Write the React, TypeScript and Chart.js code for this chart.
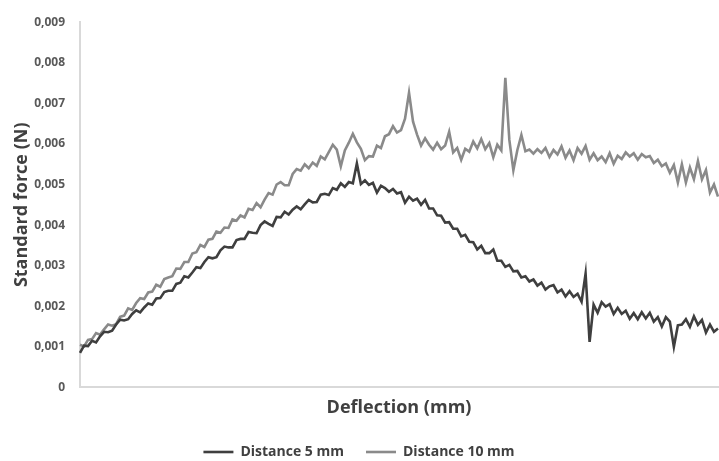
import React, { useEffect, useRef } from "react";
import { Chart, registerables } from "chart.js";

Chart.register(...registerables);

const yTickLabels = ["0", "0,001", "0,002", "0,003", "0,004", "0,005", "0,006", "0,007", "0,008", "0,009"];

// Standard force (N) — Distance 5 mm
const distance5 = [
  0.00085, 0.00103, 0.00102, 0.00115, 0.00111, 0.00126, 0.00137, 0.00136, 0.00140, 0.00155,
  0.00167, 0.00165, 0.00168, 0.00181, 0.00190, 0.00185, 0.00197, 0.00207, 0.00204, 0.00219,
  0.00220, 0.00235, 0.00238, 0.00238, 0.00255, 0.00258, 0.00274, 0.00271, 0.00283, 0.00296,
  0.00294, 0.00309, 0.00321, 0.00318, 0.00321, 0.00338, 0.00347, 0.00345, 0.00345, 0.00363,
  0.00366, 0.00366, 0.00383, 0.00381, 0.00380, 0.00400, 0.00409, 0.00403, 0.00398, 0.00420,
  0.00419, 0.00433, 0.00426, 0.00438, 0.00446, 0.00439, 0.00451, 0.00462, 0.00456, 0.00457,
  0.00475, 0.00477, 0.00474, 0.00491, 0.00487, 0.00503, 0.00494, 0.00506, 0.00503, 0.00552,
  0.00501, 0.00510, 0.00499, 0.00504, 0.00480, 0.00497, 0.00491, 0.00482, 0.00489, 0.00478,
  0.00481, 0.00455, 0.00470, 0.00460, 0.00465, 0.00450, 0.00462, 0.00441, 0.00441, 0.00424,
  0.00423, 0.00406, 0.00407, 0.00391, 0.00391, 0.00372, 0.00376, 0.00359, 0.00358, 0.00340,
  0.00349, 0.00331, 0.00331, 0.00340, 0.00312, 0.00312, 0.00297, 0.00302, 0.00286, 0.00287,
  0.00271, 0.00274, 0.00261, 0.00266, 0.00251, 0.00258, 0.00241, 0.00249, 0.00252, 0.00234,
  0.00241, 0.00224, 0.00237, 0.00223, 0.00231, 0.00211, 0.00280, 0.00112, 0.00204, 0.00184,
  0.00210, 0.00199, 0.00205, 0.00181, 0.00196, 0.00181, 0.00189, 0.00169, 0.00183, 0.00168,
  0.00185, 0.00170, 0.00184, 0.00162, 0.00173, 0.00150, 0.00173, 0.00162, 0.00100, 0.00153,
  0.00155, 0.00168, 0.00149, 0.00175, 0.00154, 0.00166, 0.00135, 0.00155, 0.00137, 0.00145
];

// Standard force (N) — Distance 10 mm
const distance10 = [
  0.00105, 0.00101, 0.00117, 0.00119, 0.00134, 0.00130, 0.00143, 0.00155, 0.00152, 0.00156,
  0.00174, 0.00177, 0.00195, 0.00191, 0.00208, 0.00220, 0.00218, 0.00234, 0.00236, 0.00253,
  0.00248, 0.00267, 0.00271, 0.00274, 0.00293, 0.00292, 0.00309, 0.00309, 0.00330, 0.00333,
  0.00351, 0.00346, 0.00364, 0.00366, 0.00384, 0.00381, 0.00394, 0.00393, 0.00414, 0.00411,
  0.00424, 0.00419, 0.00440, 0.00437, 0.00454, 0.00444, 0.00463, 0.00479, 0.00475, 0.00500,
  0.00506, 0.00498, 0.00498, 0.00526, 0.00538, 0.00534, 0.00550, 0.00540, 0.00554, 0.00546,
  0.00569, 0.00562, 0.00580, 0.00598, 0.00586, 0.00545, 0.00584, 0.00603, 0.00625, 0.00604,
  0.00588, 0.00560, 0.00570, 0.00569, 0.00596, 0.00590, 0.00619, 0.00624, 0.00644, 0.00628,
  0.00634, 0.00662, 0.00726, 0.00655, 0.00623, 0.00596, 0.00614, 0.00598, 0.00586, 0.00603,
  0.00587, 0.00596, 0.00630, 0.00579, 0.00590, 0.00561, 0.00588, 0.00581, 0.00606, 0.00589,
  0.00612, 0.00587, 0.00602, 0.00567, 0.00598, 0.00584, 0.00763, 0.00610, 0.00535, 0.00585,
  0.00622, 0.00582, 0.00586, 0.00576, 0.00587, 0.00578, 0.00590, 0.00568, 0.00585, 0.00574,
  0.00594, 0.00566, 0.00584, 0.00560, 0.00590, 0.00576, 0.00595, 0.00561, 0.00577, 0.00560,
  0.00569, 0.00555, 0.00577, 0.00551, 0.00571, 0.00563, 0.00579, 0.00569, 0.00577, 0.00561,
  0.00575, 0.00567, 0.00570, 0.00553, 0.00561, 0.00545, 0.00552, 0.00529, 0.00548, 0.00505,
  0.00550, 0.00505, 0.00542, 0.00513, 0.00558, 0.00513, 0.00536, 0.00480, 0.00500, 0.00470
];

const deflectionSteps = distance5.map((_, i) => String(i));

const FONT = "'Open Sans', 'Liberation Sans', sans-serif";

export default function App() {
  const ref = useRef<HTMLCanvasElement | null>(null);

  useEffect(() => {
    document.body.style.margin = "0";
    document.body.style.overflow = "hidden";
    document.documentElement.style.overflow = "hidden";
    const canvas = ref.current;
    if (!canvas) return;
    const chart = new Chart(canvas, {
      type: "line",
      data: {
        labels: deflectionSteps,
        datasets: [
          {
            label: "Distance 5 mm",
            data: distance5,
            borderColor: "#3f3f3f",
            backgroundColor: "#3f3f3f",
            borderWidth: 2.6,
            pointRadius: 0,
            tension: 0,
          },
          {
            label: "Distance 10 mm",
            data: distance10,
            borderColor: "#8a8a8a",
            backgroundColor: "#8a8a8a",
            borderWidth: 2.6,
            pointRadius: 0,
            tension: 0,
          },
        ],
      },
      options: {
        animation: false,
        responsive: false,
        layout: { padding: { top: 19, right: 1, left: 0, bottom: 0 } },
        plugins: {
          tooltip: { enabled: false },
          legend: {
            position: "bottom",
            labels: {
              usePointStyle: true,
              pointStyle: "line",
              pointStyleWidth: 30,
              color: "#404040",
              font: { family: FONT, size: 14, weight: "bold" },
              padding: 22,
            },
          },
        },
        scales: {
          x: {
            type: "category",
            offset: false,
            grid: { display: false, drawTicks: false },
            border: { display: true, color: "#d9d9d9", width: 2 },
            ticks: { display: false },
            title: {
              display: true,
              text: "Deflection (mm)",
              color: "#404040",
              font: { family: FONT, size: 18, weight: "bold" },
              padding: { top: 10, bottom: 4 },
            },
          },
          y: {
            min: 0,
            max: 0.009,
            grid: { display: false, drawTicks: false },
            border: { display: true, color: "#d9d9d9", width: 2 },
            ticks: {
              stepSize: 0.001,
              autoSkip: false,
              padding: 15,
              color: "#595959",
              font: { family: FONT, size: 12, weight: "bold" },
              callback: (_v: any, i: number) => yTickLabels[i],
            },
            title: {
              display: true,
              text: "Standard force (N)",
              color: "#404040",
              font: { family: FONT, size: 18, weight: "bold" },
              padding: { top: 11, bottom: 0 },
            },
            afterFit: (scale: any) => {
              scale.width = 80;
            },
          },
        },
      },
    });
    return () => chart.destroy();
  }, []);

  return (
    <div style={{ position: "absolute", left: 0, top: 0, width: 719, height: 461, overflow: "hidden" }}>
      <canvas ref={ref} width={719} height={469} style={{ display: "block" }} />
    </div>
  );
}
